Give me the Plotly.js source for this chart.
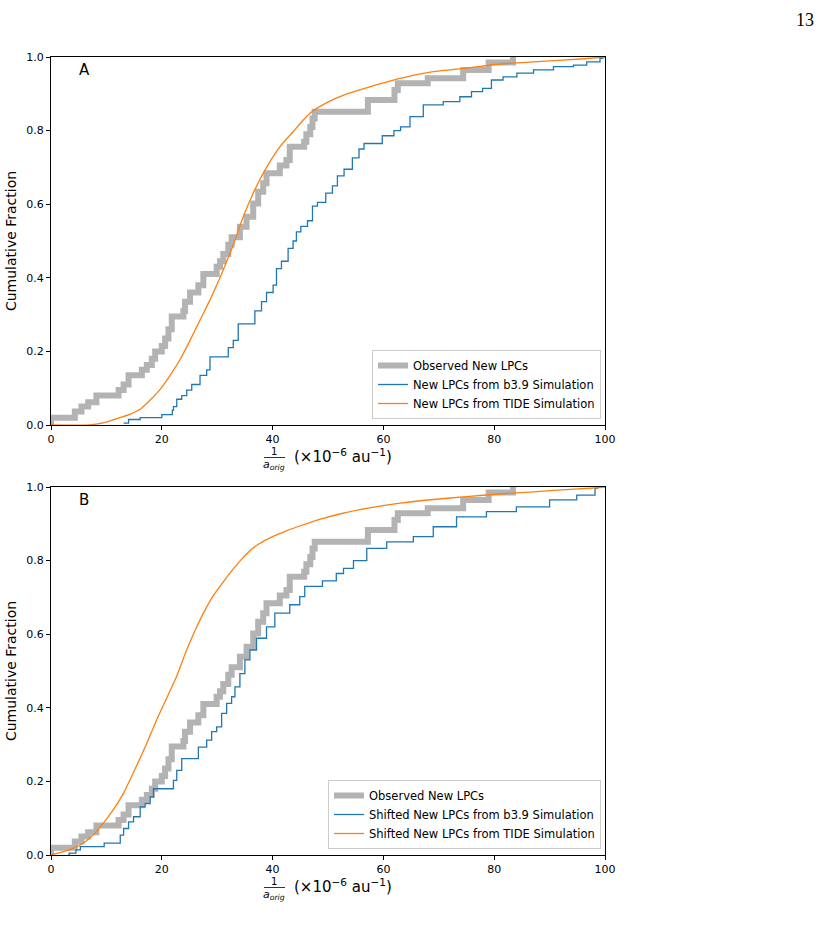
<!DOCTYPE html>
<html>
<head>
<meta charset="utf-8">
<script src="https://cdn.plot.ly/plotly-3.0.1.min.js"></script>
<style>html,body{margin:0;padding:0;background:#fff;} #chart{width:828px;height:931px;}</style>
</head>
<body>
<div id="chart"></div>
<script>
// ---------- Data ----------
// Observed new LPCs: cumulative step curve (same in both panels)
const obsX = [0, 0, 4.3, 5.5, 6.7, 8.2, 12.2, 13.1, 14.0, 16.4, 17.3, 18.2, 18.8, 20.0, 20.6, 21.2, 21.8, 23.9, 24.2, 25.1, 26.6, 27.5, 29.9, 30.5, 31.1, 32.0, 32.6, 34.1, 35.3, 36.5, 37.4, 38.3, 38.9, 41.3, 42.5, 43.1, 45.7, 46.1, 46.8, 47.2, 47.6, 57.2, 62.0, 62.6, 68.0, 74.4, 79.0, 83.4];
const obsY = [0, 0.02, 0.037, 0.05, 0.062, 0.08, 0.095, 0.11, 0.135, 0.15, 0.163, 0.18, 0.20, 0.215, 0.235, 0.26, 0.295, 0.31, 0.335, 0.36, 0.38, 0.41, 0.43, 0.445, 0.465, 0.49, 0.51, 0.539, 0.566, 0.602, 0.634, 0.657, 0.684, 0.705, 0.72, 0.756, 0.77, 0.79, 0.81, 0.833, 0.851, 0.883, 0.91, 0.929, 0.942, 0.965, 0.985, 1.0];

// Panel A: b3.9 simulation (step curve)
const b39X = [13.1, 14.0, 16.1, 20.0, 21.9, 22.1, 22.7, 23.6, 24.5, 25.4, 26.9, 28.1, 28.7, 32.0, 32.9, 33.8, 36.8, 38.0, 38.9, 40.1, 40.7, 41.6, 42.8, 43.7, 44.3, 45.1, 46.3, 47.2, 48.1, 49.6, 50.8, 51.7, 52.9, 54.4, 55.6, 56.5, 59.8, 61.9, 63.1, 64.8, 67.2, 70.8, 73.8, 75.9, 77.9, 79.5, 81.6, 84.1, 87.1, 90.7, 94.3, 96.7, 99.1, 99.6];
const b39Y = [0.005, 0.015, 0.02, 0.028, 0.04, 0.05, 0.07, 0.08, 0.095, 0.11, 0.135, 0.15, 0.185, 0.21, 0.23, 0.275, 0.31, 0.335, 0.36, 0.38, 0.425, 0.445, 0.48, 0.50, 0.525, 0.54, 0.555, 0.595, 0.605, 0.63, 0.65, 0.677, 0.695, 0.726, 0.75, 0.765, 0.786, 0.80, 0.81, 0.838, 0.87, 0.879, 0.892, 0.906, 0.915, 0.9375, 0.946, 0.956, 0.965, 0.974, 0.978, 0.987, 0.996, 1.0];

// Panel A: TIDE simulation (smooth curve)
const tideX = [0, 7, 10, 12.4, 14.2, 16.1, 17.9, 19.7, 21.5, 23.3, 25.1, 26.9, 28.7, 30.5, 32.0, 32.9, 34.7, 36.5, 38.9, 41.3, 43.7, 45.5, 46.8, 49.8, 53.4, 58.2, 63.0, 69.0, 75.0, 81.0, 87.1, 93.1, 99.4, 100];
const tideY = [0, 0, 0.008, 0.02, 0.029, 0.043, 0.068, 0.097, 0.135, 0.178, 0.23, 0.285, 0.34, 0.40, 0.455, 0.49, 0.566, 0.63, 0.70, 0.756, 0.797, 0.828, 0.848, 0.876, 0.90, 0.922, 0.942, 0.96, 0.97, 0.981, 0.987, 0.992, 0.999, 1.0];

// Panel B: shifted b3.9 simulation (step curve)
const sb39X = [3.1, 3.3, 4.5, 5.3, 9.6, 12.5, 13.1, 14.0, 14.9, 16.1, 17.0, 17.9, 18.5, 22.1, 22.7, 23.6, 26.6, 28.1, 29.0, 29.9, 30.8, 31.7, 32.6, 33.2, 34.1, 35.0, 35.9, 37.1, 38.9, 40.4, 43.1, 44.9, 45.8, 49.0, 51.5, 52.8, 54.6, 57.0, 60.6, 65.4, 69.0, 73.2, 78.6, 84.0, 90.0, 94.9, 98.2, 98.6];
const sb39Y = [0.0, 0.005, 0.014, 0.023, 0.032, 0.054, 0.072, 0.09, 0.104, 0.131, 0.14, 0.158, 0.18, 0.203, 0.23, 0.262, 0.293, 0.312, 0.335, 0.348, 0.385, 0.412, 0.43, 0.457, 0.493, 0.53, 0.557, 0.589, 0.62, 0.657, 0.68, 0.702, 0.73, 0.745, 0.765, 0.779, 0.80, 0.833, 0.851, 0.865, 0.892, 0.919, 0.933, 0.946, 0.965, 0.978, 0.996, 1.0];

// Panel B: shifted TIDE simulation (smooth curve)
const stideX = [0, 2.2, 4.0, 5.8, 7.6, 9.4, 11.2, 13.1, 14.9, 17.2, 19.0, 21.0, 22.8, 24.3, 26.0, 27.6, 29.3, 31.0, 32.6, 34.3, 35.9, 37.5, 40.1, 42.5, 44.9, 48.5, 52.5, 57.5, 63.0, 69.0, 75.0, 81.0, 87.1, 93.0, 99.6, 100];
const stideY = [0, 0.009, 0.018, 0.032, 0.054, 0.086, 0.122, 0.168, 0.225, 0.30, 0.365, 0.43, 0.49, 0.55, 0.61, 0.66, 0.705, 0.74, 0.772, 0.802, 0.827, 0.845, 0.866, 0.881, 0.894, 0.912, 0.928, 0.943, 0.956, 0.966, 0.974, 0.981, 0.987, 0.993, 0.999, 1.0];

const xTicks = [0, 20, 40, 60, 80, 100];
const yTicks = [0, 0.2, 0.4, 0.6, 0.8, 1.0];
const legendA = ["Observed New LPCs", "New LPCs from b3.9 Simulation", "New LPCs from TIDE Simulation"];
const legendB = ["Observed New LPCs", "Shifted New LPCs from b3.9 Simulation", "Shifted New LPCs from TIDE Simulation"];

// ---------- Styling ----------
const GRAY = '#b3b3b3', BLUE = '#1f77b4', ORANGE = '#ff7f0e';
const FONT = 'DejaVu Sans, sans-serif';

const traces = [
  {x: obsX, y: obsY, xaxis: 'x', yaxis: 'y', mode: 'lines', line: {shape: 'hv', color: GRAY, width: 6}, name: legendA[0], legend: 'legend'},
  {x: b39X, y: b39Y, xaxis: 'x', yaxis: 'y', mode: 'lines', line: {shape: 'hv', color: BLUE, width: 1.3}, name: legendA[1], legend: 'legend'},
  {x: tideX, y: tideY, xaxis: 'x', yaxis: 'y', mode: 'lines', line: {color: ORANGE, width: 1.3, shape: 'spline', smoothing: 0.6}, name: legendA[2], legend: 'legend'},
  {x: obsX, y: obsY, xaxis: 'x2', yaxis: 'y2', mode: 'lines', line: {shape: 'hv', color: GRAY, width: 6}, name: legendB[0], legend: 'legend2'},
  {x: sb39X, y: sb39Y, xaxis: 'x2', yaxis: 'y2', mode: 'lines', line: {shape: 'hv', color: BLUE, width: 1.3}, name: legendB[1], legend: 'legend2'},
  {x: stideX, y: stideY, xaxis: 'x2', yaxis: 'y2', mode: 'lines', line: {color: ORANGE, width: 1.3, shape: 'spline', smoothing: 0.6}, name: legendB[2], legend: 'legend2'}
];

function xAxis(anchor) {
  return {anchor: anchor, domain: [0, 1], range: [0, 100], tickvals: xTicks, ticks: 'outside', ticklen: 4, tickcolor: '#000',
    showline: true, mirror: true, linecolor: '#000', linewidth: 1, showgrid: false, zeroline: false,
    tickfont: {family: FONT, size: 11, color: '#000'}};
}
function yAxis(anchor, domain) {
  return {anchor: anchor, domain: domain, range: [0, 1], tickvals: yTicks, tickformat: '.1f', ticks: 'outside', ticklen: 4, tickcolor: '#000',
    showline: true, mirror: true, linecolor: '#000', linewidth: 1, showgrid: false, zeroline: false,
    tickfont: {family: FONT, size: 11, color: '#000'},
    title: {text: 'Cumulative Fraction', font: {family: FONT, size: 14, color: '#000'}, standoff: 6}};
}

// paper coords: px -> paper
const W0 = 51, PW = 554, B0 = 855, PH = 798;
const px = v => (v - W0) / PW;
const py = v => (B0 - v) / PH;

function xTitle(offset) {
  return [
    {xref: 'paper', yref: 'paper', x: px(274), y: py(451 + offset), text: '1', showarrow: false, font: {family: FONT, size: 10, color: '#000'}, xanchor: 'center', yanchor: 'middle'},
    {xref: 'paper', yref: 'paper', x: px(274), y: py(465 + offset), text: '<i>a</i><sub><i>orig</i></sub>', showarrow: false, font: {family: FONT, size: 11, color: '#000'}, xanchor: 'center', yanchor: 'middle'},
    {xref: 'paper', yref: 'paper', x: px(292), y: py(456 + offset), text: '(×10<sup>−6</sup> au<sup>−1</sup>)', showarrow: false, font: {family: FONT, size: 15, color: '#000'}, xanchor: 'left', yanchor: 'middle'}
  ];
}

const legendStyle = y => ({x: px(601), y: py(y), xanchor: 'right', yanchor: 'bottom', bgcolor: 'rgba(255,255,255,0.8)', bordercolor: '#cccccc', borderwidth: 1,
    font: {family: FONT, size: 11.5, color: '#000'}, itemwidth: 30, tracegroupgap: 0});

const layout = {
  width: 828, height: 931,
  margin: {l: 51, r: 223, t: 57, b: 76},
  paper_bgcolor: '#fff', plot_bgcolor: '#fff',
  font: {family: FONT, color: '#000'},
  xaxis: xAxis('y'),
  yaxis: yAxis('x', [430 / 798, 1]),
  xaxis2: xAxis('y2'),
  yaxis2: yAxis('x2', [0, 368 / 798]),
  showlegend: true,
  legend: legendStyle(419),
  legend2: legendStyle(849),
  shapes: [
    {type: 'line', xref: 'paper', yref: 'paper', x0: px(264), x1: px(285), y0: py(457.5), y1: py(457.5), line: {color: '#000', width: 0.8}},
    {type: 'line', xref: 'paper', yref: 'paper', x0: px(264), x1: px(285), y0: py(887.5), y1: py(887.5), line: {color: '#000', width: 0.8}}
  ],
  annotations: [
    {xref: 'x domain', yref: 'y domain', x: 0.06, y: 0.965, text: 'A', showarrow: false, font: {family: FONT, size: 15, color: '#000'}, xanchor: 'center', yanchor: 'middle'},
    {xref: 'x2 domain', yref: 'y2 domain', x: 0.06, y: 0.965, text: 'B', showarrow: false, font: {family: FONT, size: 15, color: '#000'}, xanchor: 'center', yanchor: 'middle'},
    {xref: 'paper', yref: 'paper', x: px(805), y: py(20), text: '13', showarrow: false, font: {family: 'Liberation Serif, DejaVu Serif, serif', size: 18, color: '#000'}, xanchor: 'center', yanchor: 'middle'}
  ].concat(xTitle(0), xTitle(430))
};

Plotly.newPlot('chart', traces, layout, {displayModeBar: false, staticPlot: true});
</script>
</body>
</html>
